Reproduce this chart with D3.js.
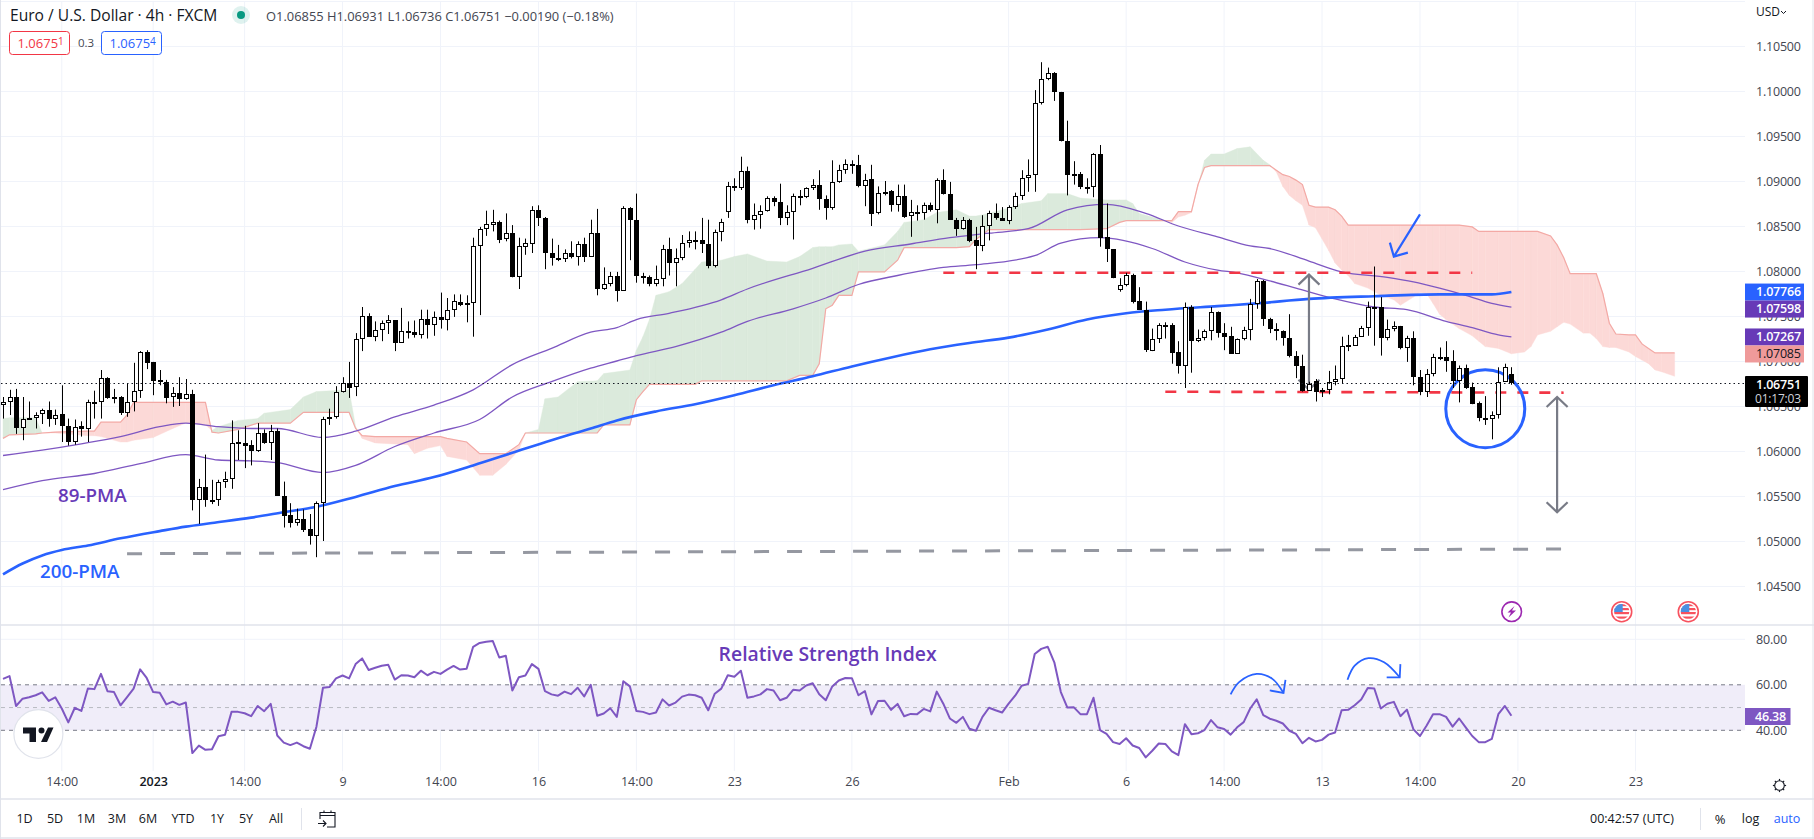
<!DOCTYPE html>
<html><head><meta charset="utf-8">
<script src="https://cdn.jsdelivr.net/npm/d3@7"></script>
<style>
html,body{margin:0;padding:0;background:#fff;overflow:hidden}
text{font-family:"Open Sans","Liberation Sans",sans-serif}
</style></head><body><svg id="c" width="1814" height="839"></svg>
<script>
const open=[1.0651,1.0654,1.0660,1.0626,1.0637,1.0637,1.0641,1.0645,1.0636,1.0641,
1.0628,1.0610,1.0628,1.0624,1.0655,1.0654,1.0681,1.0660,1.0660,1.0642,
1.0654,1.0667,1.0710,1.0699,1.0679,1.0677,1.0660,1.0664,1.0658,1.0663,
1.0546,1.0560,1.0546,1.0545,1.0566,1.0569,1.0610,1.0609,1.0607,1.0600,
1.0620,1.0609,1.0622,1.0550,1.0529,1.0520,1.0524,1.0513,1.0506,1.0542,
1.0636,1.0638,1.0666,1.0676,1.0671,1.0724,1.0750,1.0727,1.0735,1.0742,
1.0745,1.0720,1.0733,1.0732,1.0729,1.0747,1.0740,1.0749,1.0746,1.0757,
1.0766,1.0762,1.0764,1.0828,1.0847,1.0851,1.0855,1.0836,1.0842,1.0793,
1.0827,1.0830,1.0868,1.0859,1.0820,1.0815,1.0813,1.0820,1.0816,1.0830,
1.0816,1.0842,1.0780,1.0786,1.0795,1.0778,1.0870,1.0857,1.0795,1.0793,
1.0786,1.0791,1.0824,1.0809,1.0815,1.0831,1.0835,1.0834,1.0830,1.0805,
1.0843,1.0865,1.0894,1.0892,1.0911,1.0857,1.0862,1.0867,1.0881,1.0877,
1.0859,1.0865,1.0883,1.0882,1.0892,1.0896,1.0880,1.0870,1.0899,1.0912,
1.0919,1.0918,1.0895,1.0902,1.0864,1.0888,1.0889,1.0873,1.0883,1.0861,
1.0866,1.0864,1.0873,1.0868,1.0901,1.0885,1.0857,1.0847,1.0857,1.0834,
1.0828,1.0850,1.0864,1.0859,1.0856,1.0871,1.0883,1.0903,1.0907,1.0987,
1.1013,1.1020,1.0999,1.0944,1.0908,1.0908,1.0893,1.0893,1.0930,1.0838,
1.0824,1.0779,1.0784,1.0796,1.0767,1.0757,1.0711,1.0724,1.0740,1.0740,
1.0710,1.0694,1.0760,1.0722,1.0725,1.0733,1.0754,1.0731,1.0728,1.0708,
1.0724,1.0735,1.0763,1.0789,1.0747,1.0736,1.0733,1.0725,1.0705,1.0695,
1.0667,1.0678,1.0666,1.0668,1.0677,1.0680,1.0718,1.0717,1.0727,1.0737,
1.0760,1.0760,1.0726,1.0736,1.0739,1.0714,1.0725,1.0682,1.0666,1.0685,
1.0704,1.0704,1.0700,1.0678,1.0692,1.0671,1.0653,1.0637,1.0636,1.0640,
1.0677,1.06855];
const high=[1.0660,1.0668,1.0669,1.0660,1.0655,1.0643,1.0647,1.0655,1.0646,1.0673,
1.0636,1.0635,1.0633,1.0657,1.0667,1.0690,1.0682,1.0669,1.0661,1.0675,
1.0698,1.0711,1.0712,1.0699,1.0690,1.0679,1.0671,1.0682,1.0680,1.0668,
1.0569,1.0596,1.0568,1.0568,1.0577,1.0634,1.0623,1.0628,1.0612,1.0631,
1.0624,1.0629,1.0625,1.0566,1.0542,1.0536,1.0535,1.0530,1.0544,1.0638,
1.0647,1.0672,1.0682,1.0699,1.0731,1.0760,1.0753,1.0744,1.0745,1.0751,
1.0745,1.0759,1.0744,1.0745,1.0757,1.0757,1.0755,1.0776,1.0770,1.0774,
1.0774,1.0773,1.0837,1.0849,1.0867,1.0868,1.0856,1.0864,1.0851,1.0837,
1.0836,1.0872,1.0873,1.0860,1.0836,1.0829,1.0824,1.0833,1.0833,1.0837,
1.0857,1.0869,1.0804,1.0799,1.0799,1.0872,1.0871,1.0886,1.0798,1.0795,
1.0806,1.0829,1.0837,1.0825,1.0840,1.0844,1.0844,1.0859,1.0857,1.0846,
1.0858,1.0899,1.0903,1.0927,1.0916,1.0875,1.0873,1.0883,1.0883,1.0897,
1.0873,1.0886,1.0890,1.0893,1.0902,1.0912,1.0884,1.0923,1.0918,1.0924,
1.0923,1.0929,1.0908,1.0918,1.0894,1.0900,1.0890,1.0896,1.0896,1.0879,
1.0873,1.0876,1.0876,1.0903,1.0913,1.0899,1.0859,1.0860,1.0858,1.0849,
1.0862,1.0867,1.0875,1.0871,1.0873,1.0887,1.0912,1.0924,1.1001,1.1032,
1.1026,1.1021,1.0999,1.0967,1.0922,1.0910,1.0903,1.0931,1.0940,1.0875,
1.0824,1.0792,1.0798,1.0797,1.0782,1.0766,1.0736,1.0742,1.0743,1.0742,
1.0722,1.0765,1.0762,1.0735,1.0735,1.0760,1.0755,1.0742,1.0738,1.0725,
1.0738,1.0769,1.0791,1.0790,1.0748,1.0742,1.0734,1.0752,1.0711,1.0707,
1.0677,1.0680,1.0670,1.0689,1.0695,1.0727,1.0729,1.0729,1.0739,1.0766,
1.0805,1.0771,1.0746,1.0744,1.0739,1.0728,1.0733,1.0690,1.0691,1.0708,
1.0715,1.0722,1.0712,1.0695,1.0696,1.0676,1.0655,1.0661,1.0644,1.0693,
1.0697,1.06931];
const low=[1.0636,1.0640,1.0619,1.0612,1.0635,1.0625,1.0630,1.0627,1.0629,1.0610,
1.0606,1.0607,1.0616,1.0610,1.0636,1.0636,1.0658,1.0653,1.0640,1.0638,
1.0644,1.0659,1.0691,1.0662,1.0673,1.0653,1.0649,1.0650,1.0657,1.0534,
1.0519,1.0538,1.0541,1.0539,1.0559,1.0558,1.0590,1.0581,1.0584,1.0599,
1.0608,1.0590,1.0550,1.0515,1.0515,1.0517,1.0510,1.0496,1.0482,1.0500,
1.0629,1.0636,1.0665,1.0659,1.0661,1.0711,1.0727,1.0722,1.0722,1.0730,
1.0711,1.0720,1.0725,1.0726,1.0725,1.0725,1.0728,1.0736,1.0734,1.0749,
1.0761,1.0743,1.0727,1.0751,1.0839,1.0844,1.0831,1.0833,1.0793,1.0780,
1.0818,1.0820,1.0850,1.0802,1.0806,1.0811,1.0810,1.0814,1.0806,1.0810,
1.0816,1.0773,1.0779,1.0783,1.0766,1.0778,1.0812,1.0787,1.0786,1.0783,
1.0783,1.0783,1.0795,1.0783,1.0812,1.0826,1.0824,1.0820,1.0803,1.0804,
1.0833,1.0859,1.0889,1.0890,1.0853,1.0846,1.0847,1.0866,1.0872,1.0851,
1.0851,1.0835,1.0873,1.0881,1.0890,1.0868,1.0857,1.0868,1.0898,1.0908,
1.0908,1.0893,1.0872,1.0850,1.0863,1.0884,1.0866,1.0866,1.0859,1.0838,
1.0856,1.0857,1.0866,1.0853,1.0885,1.0857,1.0839,1.0846,1.0832,1.0802,
1.0822,1.0834,1.0857,1.0856,1.0852,1.0869,1.0879,1.0888,1.0888,1.0985,
1.1012,1.0989,1.0944,1.0884,1.0896,1.0891,1.0886,1.0882,1.0827,1.0810,
1.0792,1.0777,1.0783,1.0764,1.0757,1.0710,1.0711,1.0720,1.0725,1.0697,
1.0686,1.0670,1.0687,1.0721,1.0723,1.0723,1.0726,1.0712,1.0708,1.0708,
1.0723,1.0723,1.0758,1.0739,1.0731,1.0723,1.0717,1.0704,1.0681,1.0666,
1.0667,1.0655,1.0660,1.0663,1.0673,1.0675,1.0711,1.0717,1.0727,1.0728,
1.0717,1.0706,1.0723,1.0733,1.0713,1.0699,1.0673,1.0662,1.0660,1.0683,
1.0701,1.0688,1.0670,1.0654,1.0669,1.0652,1.0633,1.0629,1.0613,1.0636,
1.0677,1.06736];
const close=[1.0654,1.0660,1.0626,1.0636,1.0636,1.0640,1.0645,1.0636,1.0640,1.0628,
1.0610,1.0627,1.0624,1.0655,1.0654,1.0681,1.0659,1.0659,1.0642,1.0654,
1.0667,1.0710,1.0698,1.0678,1.0677,1.0659,1.0664,1.0658,1.0663,1.0546,
1.0560,1.0545,1.0544,1.0566,1.0569,1.0609,1.0609,1.0606,1.0600,1.0620,
1.0609,1.0622,1.0550,1.0528,1.0520,1.0524,1.0512,1.0506,1.0542,1.0636,
1.0638,1.0666,1.0676,1.0670,1.0724,1.0750,1.0727,1.0735,1.0742,1.0745,
1.0720,1.0733,1.0732,1.0729,1.0747,1.0740,1.0749,1.0746,1.0757,1.0767,
1.0762,1.0764,1.0828,1.0847,1.0852,1.0855,1.0835,1.0842,1.0793,1.0828,
1.0831,1.0868,1.0859,1.0820,1.0815,1.0813,1.0820,1.0816,1.0830,1.0816,
1.0842,1.0780,1.0786,1.0795,1.0778,1.0870,1.0857,1.0795,1.0793,1.0786,
1.0791,1.0824,1.0809,1.0815,1.0831,1.0835,1.0834,1.0830,1.0805,1.0843,
1.0854,1.0894,1.0892,1.0911,1.0857,1.0862,1.0867,1.0881,1.0877,1.0859,
1.0865,1.0883,1.0882,1.0892,1.0896,1.0880,1.0870,1.0899,1.0912,1.0919,
1.0917,1.0894,1.0901,1.0863,1.0887,1.0887,1.0873,1.0883,1.0860,1.0866,
1.0865,1.0873,1.0868,1.0901,1.0885,1.0857,1.0847,1.0857,1.0833,1.0828,
1.0850,1.0864,1.0859,1.0856,1.0871,1.0883,1.0903,1.0907,1.0987,1.1013,
1.1020,1.0999,1.0944,1.0907,1.0907,1.0893,1.0893,1.0930,1.0837,1.0824,
1.0792,1.0784,1.0796,1.0766,1.0757,1.0712,1.0724,1.0740,1.0739,1.0709,
1.0694,1.0760,1.0722,1.0725,1.0733,1.0754,1.0731,1.0727,1.0708,1.0724,
1.0735,1.0763,1.0789,1.0747,1.0736,1.0733,1.0725,1.0705,1.0695,1.0667,
1.0675,1.0666,1.0668,1.0677,1.0680,1.0717,1.0717,1.0727,1.0737,1.0760,
1.0759,1.0726,1.0736,1.0739,1.0714,1.0725,1.0682,1.0666,1.0685,1.0704,
1.0704,1.0700,1.0678,1.0692,1.0670,1.0652,1.0637,1.0636,1.0640,1.0677,
1.0693,1.06751];
const rsi=[62.6,63.8,50.7,53.9,54.5,55.4,56.7,52.9,54.5,49.6,43.5,49.9,48.5,58.4,58.1,64.8,57.2,56.8,51,54.6,
58.3,66.8,63,56.8,56.5,51.4,52.6,51.2,52.2,30,33.3,31.4,31.7,37.4,38,48.1,48.1,47.5,46.2,50.7,
48.4,51.6,37.7,34.6,33.5,34.6,33,31.9,41.6,58.7,59,62.8,64.1,62.8,69.1,71.6,66.5,67.5,68.4,68.8,
62.3,64.2,64.1,63.3,66.2,64.2,65.7,64.8,66.7,68.3,66.7,67.1,76.7,78.4,78.9,79.3,72,72.8,57.5,63.3,
64.1,69.1,67,57.2,55.8,55.2,57,55.9,58.7,54.9,60,46.4,47.4,49.7,45.9,61.6,59.3,48.5,48.1,47.1,
47.8,53.6,50.9,52.2,54.8,55.7,55.4,54.3,48.8,56.1,58.3,64.2,63.5,66.2,54.3,54.9,55.8,58.1,57.5,53.2,
54.3,57.8,57.5,59.7,60.7,55.8,53.2,59.3,61.9,63,62.9,55.4,57.2,47,52.9,53,49,51.6,46.2,47.2,
47.1,49.4,48.3,57,51.7,45.2,43.3,45.9,40.7,39.8,45.9,49.9,48.8,47.8,51.7,55.2,59.6,60.4,73.5,75.8,
76.7,69.9,56.8,50,50.1,47.1,47.1,54.3,40.1,38.4,34.8,34,36.5,33.3,32.2,28.1,31,34.2,34,30.7,
29.1,42.7,38.3,38.7,40.1,44.5,41.3,40.6,38.1,41.3,43.6,49.6,53.6,46.7,45.1,44.2,43,39.8,38.4,34.3,
36.7,35.1,35.8,38.1,39,48.8,49,51,53.5,58.6,58.4,49.6,51.7,52.5,46.2,49.1,40.4,37.5,42,47.1,
47.1,45.9,41.6,45.2,41.3,37.5,34.8,34.8,36.2,47.1,50.7,46.38];

const ma200Idx=[0,3,6,9,13,18,24,28,32,38,43,48,54,60,66,72,78,84,90,94,100,106,112,118,124,130,136,142,148,154,160,166,172,178,186,192,200,210,220,228,231];
const ma200=[1.0463,1.0475,1.0484,1.0490,1.0495,1.0503,1.0511,1.0516,1.0520,1.0526,1.0532,1.0538,1.0549,1.0561,1.0571,1.0584,1.0598,1.0612,1.0625,1.0634,1.0644,1.0652,1.0662,1.0673,1.0683,1.0694,1.0704,1.0713,1.0720,1.0726,1.0735,1.0746,1.0753,1.0757,1.0761,1.0764,1.0769,1.0772,1.0774,1.0774,1.07766];
const ma89HighIdx=[0,6,12,18,24,28,33,38,42,49,54,60,66,72,78,84,90,94,97,102,110,114,124,132,139,145,151,157,163,169,175,180,186,191,194,200,205,212,216,220,224,228,231];
const ma89High=[1.0595,1.0601,1.0608,1.0616,1.0627,1.0631,1.0627,1.0625,1.0625,1.0615,1.0622,1.0638,1.0651,1.0668,1.0696,1.0714,1.0732,1.0737,1.0746,1.0753,1.0768,1.0780,1.0803,1.0822,1.0830,1.0837,1.0842,1.0847,1.0868,1.0874,1.0864,1.0850,1.0838,1.0828,1.0825,1.0811,1.0799,1.0793,1.0788,1.0781,1.0773,1.0764,1.07598];
const ma89LowIdx=[0,6,14,21,28,33,38,42,49,54,60,66,73,78,84,90,94,97,103,110,114,121,126,131,137,144,149,158,162,168,176,181,186,189,194,198,204,210,215,221,225,229,231];
const ma89Low=[1.0557,1.0567,1.0575,1.0586,1.0596,1.0590,1.0589,1.0587,1.0576,1.0584,1.0605,1.0620,1.0635,1.0660,1.0677,1.0692,1.0700,1.0706,1.0716,1.0732,1.0744,1.0758,1.0770,1.0785,1.0795,1.0804,1.0807,1.0817,1.0831,1.0837,1.0825,1.0810,1.0801,1.0798,1.0789,1.0781,1.0769,1.0760,1.0757,1.0744,1.0737,1.0729,1.07267];

const cloudIdx=[0,1,5,6,8,13,14,15,18,19,20,23,26,28,31,32,33,36,39,40,44,46,48,53,54,55,57,62,63,65,67,68,71,73,75,77,79,80,82,83,85,88,91,92,96,97,98,99,100,102,104,106,107,110,112,114,117,120,122,124,125,126,127,128,130,131,135,137,138,141,143,146,148,149,151,154,156,159,160,163,165,169,171,172,173,174,176,178,179,180,181,182,183,184,185,187,189,191,193,194,195,196,197,198,199,200,201,203,204,205,206,207,209,211,213,214,216,217,218,219,220,221,223,225,226,227,229,231,233,234,235,237,238,239,240,242,243,244,245,246,247,249,250,251,252,253,254,256];
const senkouA=[1.0636,1.0637,1.0637,1.0620,1.0620,1.0617,1.0617,1.0616,1.0610,1.0610,1.0612,1.0615,1.0625,1.0631,1.0629,1.0623,1.0627,1.0634,1.0636,1.0642,1.0646,1.0660,1.0666,1.0668,1.0627,1.0614,1.0609,1.0607,1.0597,1.0603,1.0606,1.0594,1.0590,1.0573,1.0573,1.0585,1.0601,1.0620,1.0624,1.0658,1.0660,1.0677,1.0678,1.0686,1.0690,1.0712,1.0727,1.0746,1.0773,1.0777,1.0786,1.0802,1.0810,1.0812,1.0816,1.0819,1.0811,1.0810,1.0816,1.0826,1.0827,1.0827,1.0827,1.0829,1.0830,1.0822,1.0829,1.0844,1.0854,1.0857,1.0865,1.0868,1.0861,1.0861,1.0864,1.0870,1.0875,1.0878,1.0886,1.0886,1.0881,1.0879,1.0879,1.0879,1.0875,1.0864,1.0860,1.0856,1.0854,1.0860,1.0862,1.0865,1.0894,1.0923,1.0930,1.0930,1.0936,1.0938,1.0923,1.0918,1.0910,1.0894,1.0884,1.0878,1.0873,1.0851,1.0848,1.0823,1.0809,1.0801,1.0795,1.0786,1.0781,1.0773,1.0768,1.0762,1.0771,1.0776,1.0775,1.0764,1.0752,1.0746,1.0736,1.0728,1.0722,1.0716,1.0714,1.0708,1.0710,1.0716,1.0729,1.0733,1.0738,1.0743,1.0741,1.0731,1.0731,1.0725,1.0716,1.0715,1.0715,1.0710,1.0705,1.0701,1.0697,1.0690,1.0688,1.0683];
const senkouB=[1.0614,1.0618,1.0619,1.0620,1.0621,1.0622,1.0622,1.0632,1.0632,1.0640,1.0654,1.0654,1.0654,1.0654,1.0654,1.0621,1.0620,1.0624,1.0631,1.0631,1.0631,1.0643,1.0643,1.0643,1.0625,1.0617,1.0616,1.0616,1.0616,1.0616,1.0616,1.0614,1.0610,1.0597,1.0597,1.0597,1.0607,1.0620,1.0620,1.0620,1.0620,1.0620,1.0620,1.0629,1.0629,1.0657,1.0666,1.0674,1.0674,1.0674,1.0674,1.0674,1.0678,1.0678,1.0678,1.0678,1.0678,1.0678,1.0684,1.0684,1.0697,1.0758,1.0762,1.0773,1.0773,1.0799,1.0799,1.0812,1.0826,1.0826,1.0826,1.0826,1.0827,1.0835,1.0846,1.0846,1.0846,1.0846,1.0846,1.0846,1.0846,1.0847,1.0854,1.0856,1.0856,1.0856,1.0856,1.0856,1.0856,1.0866,1.0866,1.0866,1.0896,1.0915,1.0917,1.0917,1.0917,1.0917,1.0917,1.0917,1.0912,1.0907,1.0905,1.0901,1.0896,1.0873,1.0871,1.0871,1.0868,1.0861,1.0851,1.0851,1.0851,1.0851,1.0851,1.0851,1.0851,1.0851,1.0851,1.0851,1.0851,1.0851,1.0851,1.0849,1.0844,1.0844,1.0844,1.0844,1.0844,1.0844,1.0844,1.0839,1.0829,1.0815,1.0797,1.0797,1.0797,1.0797,1.0775,1.0742,1.0730,1.0729,1.0729,1.0719,1.0714,1.0709,1.0709,1.0709];

const priceTicks=[1.105,1.10,1.095,1.09,1.085,1.08,1.075,1.07,1.065,1.06,1.055,1.05,1.045];
const rsiTicks=[80,60,40];
const timeTickIdx=[9,23,37,52,67,82,97,112,130,154,172,187,202,217,232,250];
const timeTickLabels=["14:00","2023","14:00","9","14:00","16","14:00","23","26","Feb","6","14:00","13","14:00","20","23"];
const rangeButtons=["1D","5D","1M","3M","6M","YTD","1Y","5Y","All"];
const lastClose=1.06751;
const priceTags=[[1.07766,"#2962ff","#fff"],[1.07598,"#673ab7","#fff"],[1.07267,"#673ab7","#fff"],[1.07085,"#ef9a9a","#131722"]];

const W=1814,H=839,plotR=1745;
const svg=d3.select("#c");
const x=d3.scaleLinear().domain([0,231]).range([3,1511.4]);
const y=d3.scaleLinear().domain([1.045,1.105]).range([586,46]);
const ry=d3.scaleLinear().domain([40,80]).range([730.3,639.3]);
const grid=svg.append("g"), ink="#131722", axisInk="#434651";

function txt(g,px,py,s,o={}){
  return g.append("text").attr("x",px).attr("y",py).attr("dy",".35em").text(s)
   .attr("fill",o.fill||axisInk).attr("font-size",o.size||12.5).attr("font-weight",o.weight||400)
   .attr("text-anchor",o.anchor||"start").attr("letter-spacing",o.ls||null);
}
// grid
grid.selectAll(".v").data(timeTickIdx).join("line").attr("x1",d=>x(d)).attr("x2",d=>x(d)).attr("y1",1).attr("y2",771).attr("stroke","#f0f3fa");
grid.selectAll(".h").data(priceTicks).join("line").attr("x1",1).attr("x2",plotR).attr("y1",d=>Math.round(y(d))+.5).attr("y2",d=>Math.round(y(d))+.5).attr("stroke","#f0f3fa");
grid.append("line").attr("x1",1).attr("x2",plotR).attr("y1",1.5).attr("y2",1.5).attr("stroke","#f0f3fa");
grid.append("line").attr("x1",1).attr("x2",plotR).attr("y1",ry(80)).attr("y2",ry(80)).attr("stroke","#f0f3fa");

// ichimoku cloud
const cloud=svg.append("g");
const areaGen=d3.area().x(d=>x(d.i)).y0(d=>y(d.b)).y1(d=>y(d.a));
const segs=[];
for(let k=0;k<cloudIdx.length-1;k++){
  const p={i:cloudIdx[k],a:senkouA[k],b:senkouB[k]},q={i:cloudIdx[k+1],a:senkouA[k+1],b:senkouB[k+1]};
  const d0=p.a-p.b,d1=q.a-q.b;
  if(d0*d1<0){const t=d0/(d0-d1);const m={i:p.i+(q.i-p.i)*t,a:p.a+(q.a-p.a)*t,b:p.a+(q.a-p.a)*t};
    segs.push({pts:[p,m],up:d0>0});segs.push({pts:[m,q],up:d1>0});}
  else segs.push({pts:[p,q],up:d0+d1>0});
}
cloud.selectAll("path.s").data(segs).join("path").attr("d",d=>areaGen(d.pts)).attr("fill",d=>d.up?"#dbeadc":"#fcd9d7").attr("stroke",d=>d.up?"#dbeadc":"#fcd9d7").attr("stroke-width",.4);
cloud.append("path").attr("fill","none").attr("stroke","#f3a9a5").attr("stroke-width",1.2)
 .attr("d",d3.line().x(d=>x(d)).y((d,i)=>y(senkouB[i]))(cloudIdx));

// RSI band
svg.append("rect").attr("x",1).attr("width",plotR-1).attr("y",ry(60)).attr("height",ry(40)-ry(60)).attr("fill","#f0edf9");
[[60,"#787b86"],[50,"#b8bac2"],[40,"#787b86"]].forEach(([v,c])=>svg.append("line").attr("x1",1).attr("x2",plotR).attr("y1",ry(v)).attr("y2",ry(v)).attr("stroke",c).attr("stroke-dasharray","4 4"));

// MAs
const lineOf=(idx,vals,c,w)=>svg.append("path").attr("fill","none").attr("stroke",c).attr("stroke-width",w).attr("stroke-linejoin","round")
  .attr("d",d3.line().x(d=>x(d)).y((d,i)=>y(vals[i])).curve(d3.curveMonotoneX)(idx));
lineOf(ma89HighIdx,ma89High,"#7e57c2",1.3);
lineOf(ma89LowIdx,ma89Low,"#7e57c2",1.3);
lineOf(ma200Idx,ma200,"#2962ff",2.6);

// drawings (below candles)
const dr=svg.append("g");
const hline=(i0,p0,i1,p1,c,w,dash)=>dr.append("line").attr("x1",x(i0)).attr("x2",x(i1)).attr("y1",y(p0)).attr("y2",y(p1)).attr("stroke",c).attr("stroke-width",w).attr("stroke-dasharray",dash);
hline(144,1.0798,225,1.0798,"#f23645",2.6,"11 11");
hline(178,1.06659,239,1.06648,"#f23645",2.6,"11 11");
hline(19,1.04859,239,1.04911,"#9598a1",3,"15 18");
function dblArrow(i,top,bot){
  const X=x(i),t=y(top),b=y(bot);
  const g=dr.append("g").attr("fill","none").attr("stroke","#787b86").attr("stroke-width",2.2);
  g.append("line").attr("x1",X).attr("x2",X).attr("y1",t).attr("y2",b);
  g.append("path").attr("d",`M${X-10.5},${t+10}L${X},${t}L${X+10.5},${t+10}`);
  g.append("path").attr("d",`M${X-10.5},${b-10}L${X},${b}L${X+10.5},${b-10}`);
}
dblArrow(200,1.0796,1.0668);
dblArrow(238,1.0660,1.0532);
const bl=dr.append("g").attr("fill","none").attr("stroke","#2962ff").attr("stroke-width",2.2);
bl.append("path").attr("d",()=>{const a=x(217),b=y(1.0863),c=x(213),e=y(1.0816);return `M${a},${b}L${c},${e}M${c-4},${e-14}L${c},${e}L${c+14},${e-4}`;});
dr.append("ellipse").attr("cx",x(227)).attr("cy",y(1.0647)).attr("rx",39.5).attr("ry",39).attr("fill","none").attr("stroke","#2962ff").attr("stroke-width",3);

// candles
const n=open.length;
const cg=svg.append("g");
d3.range(n).forEach(i=>{
  const cx=Math.round(x(i))+.5,up=close[i]>open[i];
  cg.append("line").attr("x1",cx).attr("x2",cx).attr("y1",y(high[i])).attr("y2",y(low[i])).attr("stroke","#000").attr("stroke-width",1);
  const t=Math.round(y(Math.max(open[i],close[i]))),b=Math.max(t+2,Math.round(y(Math.min(open[i],close[i]))));
  cg.append("rect").attr("x",cx-2).attr("y",t+.5).attr("width",4).attr("height",b-t-1).attr("fill",up?"#fff":"#000").attr("stroke","#000").attr("stroke-width",1);
});
// last price dotted
svg.append("line").attr("x1",1).attr("x2",plotR).attr("y1",Math.round(y(lastClose))+.5).attr("y2",Math.round(y(lastClose))+.5).attr("stroke",ink).attr("stroke-dasharray","1.5 3").attr("stroke-width",1);

// text annotations
txt(svg,58,495,"89-PMA",{fill:"#673ab7",size:18.8,weight:600});
txt(svg,40,571,"200-PMA",{fill:"#2962ff",size:18.8,weight:600});
txt(svg,718.6,654,"Relative Strength Index",{fill:"#673ab7",size:19.4,weight:600});

// RSI line
svg.append("path").attr("fill","none").attr("stroke","#7e57c2").attr("stroke-width",2).attr("stroke-linejoin","round")
 .attr("d",d3.line().x((d,i)=>x(i)).y(d=>ry(d))(rsi));
// RSI curved arrows
const arcGen=d3.line().x(d=>x(d[0])).y(d=>ry(d[1])).curve(d3.curveCatmullRom);
const arc1=[[188,55.8],[189.3,61.2],[192,64.8],[194.4,62.6],[196.1,56.4]];
const arc2=[[205.9,62.2],[207,68.4],[209.1,71.7],[211.5,69.9],[213.9,63.3]];
const head1=[[194,57.5],[196.1,56.4],[196.4,62.2]];
const head2=[[211.9,63.3],[213.9,63.3],[214,69.1]];
[arc1,arc2].forEach(a=>svg.append("path").attr("d",arcGen(a)).attr("fill","none").attr("stroke","#2962ff").attr("stroke-width",1.8));
const headGen=d3.line().x(d=>x(d[0])).y(d=>ry(d[1]));
[head1,head2].forEach(a=>svg.append("path").attr("d",headGen(a)).attr("fill","none").attr("stroke","#2962ff").attr("stroke-width",1.8));

// separators
[[1,625,plotR+69,625],[1,799,W,799],[1,838,W,838]].forEach(a=>svg.append("line").attr("x1",a[0]).attr("y1",a[1]).attr("x2",a[2]).attr("y2",a[3]).attr("stroke","#e0e3eb").attr("stroke-width",1.5));
svg.append("line").attr("x1",.5).attr("x2",.5).attr("y1",0).attr("y2",H).attr("stroke","#e0e3eb");
svg.append("line").attr("x1",W-1).attr("x2",W-1).attr("y1",0).attr("y2",H).attr("stroke","#e0e3eb");

// axes
const styleAxis=g=>{g.select(".domain").remove();g.selectAll("line").remove();g.selectAll("text").attr("fill",axisInk).attr("font-size",12.5).attr("font-family",'"Open Sans"');};
svg.append("g").attr("transform","translate(1756,0)").call(d3.axisRight(y).tickValues(priceTicks).tickFormat(d3.format(".5f")).tickSize(0).tickPadding(0)).call(styleAxis).selectAll("text").attr("letter-spacing",-.2);
svg.append("g").attr("transform","translate(1756,0)").call(d3.axisRight(ry).tickValues(rsiTicks).tickFormat(d3.format(".2f")).tickSize(0).tickPadding(0)).call(styleAxis).selectAll("text").attr("letter-spacing",-.2);
svg.append("g").attr("transform","translate(0,771)").call(d3.axisBottom(x).tickValues(timeTickIdx).tickFormat((d,i)=>timeTickLabels[i]).tickSize(0).tickPadding(6)).call(styleAxis)
  .selectAll("text").attr("fill",(d,i)=>timeTickLabels[i]==="2023"?ink:axisInk).attr("font-weight",(d,i)=>timeTickLabels[i]==="2023"?600:400);

// USD
txt(svg,1756,12,"USD",{size:12,fill:ink});
svg.append("path").attr("d","M1781,11l2.5,2.5l2.5,-2.5").attr("fill","none").attr("stroke",ink).attr("stroke-width",1);

// price tags
let prev=0;
priceTags.forEach(([v,bg,fg])=>{
  const top=Math.max(y(v)-8.5,prev);prev=top+17;
  svg.append("rect").attr("x",plotR).attr("y",top).attr("width",59).attr("height",17).attr("fill",bg);
  txt(svg,1756,top+8.5,d3.format(".5f")(v),{fill:fg,size:12.5,weight:bg==="#ef9a9a"?400:600,ls:-.2});
});
const cy=y(lastClose);
svg.append("rect").attr("x",plotR).attr("y",cy-7.5).attr("width",63).attr("height",31).attr("fill","#000").attr("rx",1);
txt(svg,1756,cy+1,d3.format(".5f")(lastClose),{fill:"#fff",size:12.5,weight:600,ls:-.2});
txt(svg,1755,cy+15,"01:17:03",{fill:"#d1d4dc",size:12,ls:-.2});
svg.append("rect").attr("x",plotR).attr("y",708).attr("width",45.5).attr("height",17).attr("fill","#7e57c2");
txt(svg,1755,716.5,"46.38",{fill:"#fff",size:12.5,weight:600,ls:-.2});

// header
txt(svg,10,16,"Euro / U.S. Dollar · 4h · FXCM",{fill:ink,size:15.6});
svg.append("circle").attr("cx",241).attr("cy",15).attr("r",9).attr("fill","#089981").attr("opacity",.13);
svg.append("circle").attr("cx",241).attr("cy",15).attr("r",4).attr("fill","#089981");
txt(svg,266,16,"O1.06855  H1.06931  L1.06736  C1.06751  −0.00190 (−0.18%)",{fill:"#434651",size:12.9});
function quote(x0,w,c,main,sup){
  svg.append("rect").attr("x",x0).attr("y",31.5).attr("width",w).attr("height",23).attr("rx",3).attr("fill","#fff").attr("stroke",c);
  const t=txt(svg,x0+8,43.5,main,{fill:c,size:13});
  t.append("tspan").attr("dy","-3").attr("font-size",10).text(sup);
}
quote(9.5,60,"#f23645","1.0675","1");
txt(svg,78,43,"0.3",{size:11.5});
quote(101.5,60,"#2962ff","1.0675","4");

// TV logo
svg.append("ellipse").attr("cx",38.4).attr("cy",734).attr("rx",24.5).attr("ry",24.3).attr("fill","#fff").attr("stroke","#e0e3eb").attr("stroke-width",1.2);
svg.append("path").attr("fill","#131722").attr("d","M23,727.5H36V742H29.5V733.5H23ZM48,727.5H53.5L47,742H41Z");
svg.append("circle").attr("cx",41.5).attr("cy",730.5).attr("r",3).attr("fill","#131722");

// event icons
const ico=svg.append("g");
ico.append("circle").attr("cx",1511.7).attr("cy",611.7).attr("r",9.8).attr("fill","#fff").attr("stroke","#9c27b0").attr("stroke-width",1.6);
ico.append("path").attr("fill","#9c27b0").attr("d","M1514.5,606L1507.5,612.5H1511L1508.5,617.5L1516,610.5H1512Z");
const defs=svg.append("defs");
[1621.7,1688.3].forEach((cx,k)=>{
  defs.append("clipPath").attr("id","fc"+k).append("circle").attr("cx",cx).attr("cy",611.7).attr("r",7.6);
  ico.append("circle").attr("cx",cx).attr("cy",611.7).attr("r",10).attr("fill","#fff").attr("stroke","#f7525f").attr("stroke-width",1.6);
  const g=ico.append("g").attr("clip-path",`url(#fc${k})`);
  g.append("rect").attr("x",cx-9).attr("y",603).attr("width",18).attr("height",18).attr("fill","#fff");
  [604,608,612,616.5].forEach(yy=>g.append("rect").attr("x",cx-9).attr("y",yy).attr("width",18).attr("height",2.2).attr("fill","#f7525f"));
  g.append("rect").attr("x",cx-9).attr("y",603).attr("width",10).attr("height",9).attr("fill","#4a90e2");
});

// gear
const gear=svg.append("g").attr("stroke",ink).attr("fill","none");
gear.append("circle").attr("cx",1779.5).attr("cy",785.5).attr("r",4.8).attr("stroke-width",1.1);
d3.range(8).forEach(a=>{const t=a*Math.PI/4;gear.append("line").attr("x1",1779.5+4.8*Math.cos(t)).attr("y1",785.5+4.8*Math.sin(t)).attr("x2",1779.5+6.6*Math.cos(t)).attr("y2",785.5+6.6*Math.sin(t)).attr("stroke-width",1.2);});

// bottom bar
const btnX=[24.5,55,86,117,148,183,217,246,276];
rangeButtons.forEach((b,i)=>txt(svg,btnX[i],819,b,{anchor:"middle",size:12.5,fill:ink}));
svg.append("line").attr("x1",301.5).attr("x2",301.5).attr("y1",808).attr("y2",830).attr("stroke","#e0e3eb");
svg.append("path").attr("fill","none").attr("stroke",ink).attr("stroke-width",1.1).attr("d","M320,819V812.5H335V827H327M320,815.5H335M324,810.5V813M331,810.5V813M318,823.5H326M323,820.5l3,3l-3,3");
txt(svg,1590,819,"00:42:57 (UTC)",{size:12.5,fill:ink});
svg.append("line").attr("x1",1700.5).attr("x2",1700.5).attr("y1",808).attr("y2",830).attr("stroke","#e0e3eb");
txt(svg,1720,819,"%",{anchor:"middle",size:13,fill:ink});
txt(svg,1750.5,819,"log",{anchor:"middle",size:12.5,fill:ink});
txt(svg,1787,819,"auto",{anchor:"middle",size:12.5,fill:"#2962ff"});
</script></body></html>
